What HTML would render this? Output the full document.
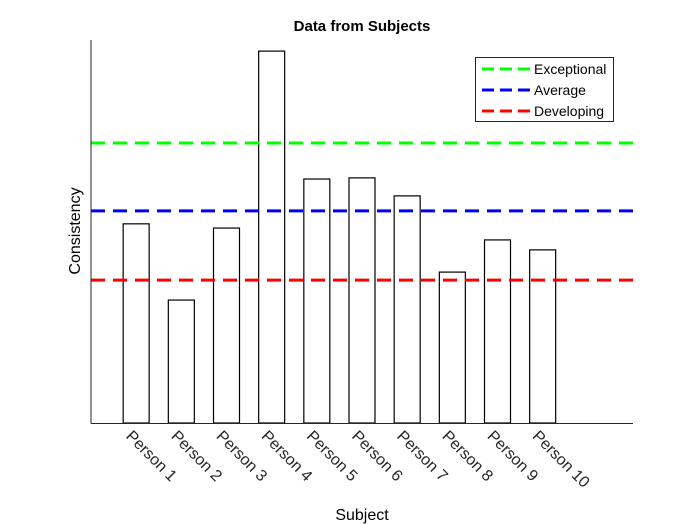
<!DOCTYPE html>
<html><head><meta charset="utf-8"><style>body{margin:0;background:#fff}svg{display:block;font-family:"Liberation Sans",Arial,sans-serif}</style></head>
<body>
<svg id="chart" width="700" height="525" viewBox="0 0 700 525">
<rect x="0" y="0" width="700" height="525" fill="#fff"/>
<text x="362" y="31" text-anchor="middle" font-size="15" font-weight="bold">Data from Subjects</text>
<text x="362" y="520" text-anchor="middle" font-size="16">Subject</text>
<text transform="translate(80,231) rotate(-90)" text-anchor="middle" font-size="16">Consistency</text>
<g id="bars"></g><g id="lines"></g><g id="ticks"></g>
<line x1="91" y1="40" x2="91" y2="423.5" stroke="#262626"/>
<line x1="91" y1="423.5" x2="633" y2="423.5" stroke="#262626"/>
<g>
<rect x="475.5" y="57.5" width="138" height="64" fill="#fff" stroke="#262626"/>
<g id="legend-entries"></g>
</g>
</svg>
<script>
const categories=["Person 1","Person 2","Person 3","Person 4","Person 5","Person 6","Person 7","Person 8","Person 9","Person 10"];
const values=[52.0,32.1,50.9,97.1,63.7,64.0,59.3,39.4,47.8,45.2];
const refNames=["Exceptional","Average","Developing"];
const refValues=[73.1,55.4,37.3];
const refColors=["#00ff00","#0000ff","#ff0000"];
const NS="http://www.w3.org/2000/svg";
const X0=91,X1=633,Y0=423,Y1=40;
const xs=v=>X0+(v/12)*(X1-X0);
const ys=v=>Y0-(v/100)*(Y0-Y1);
function mk(t,a,p){const e=document.createElementNS(NS,t);for(const k in a)e.setAttribute(k,a[k]);p.appendChild(e);return e;}
const bars=document.getElementById('bars'),lines=document.getElementById('lines'),ticks=document.getElementById('ticks'),leg=document.getElementById('legend-entries');
values.forEach((v,i)=>{const c=xs(i+1);
const r=mk('rect',{x:c-13,y:ys(v),width:26,height:ys(0)-ys(v),fill:'#fff',stroke:'#000','stroke-width':1.2},bars);


const t=mk('text',{transform:`translate(${c-11},${437}) rotate(45)`,'font-size':16,fill:'#262626'},ticks);
t.textContent=categories[i];


});
refValues.forEach((v,i)=>{
const l=mk('line',{x1:X0,x2:X1,y1:ys(v),y2:ys(v),stroke:refColors[i],'stroke-width':3,'stroke-dasharray':'14,8'},lines);


const y=69+i*21;
const ll=mk('line',{x1:482,x2:530,y1:y,y2:y,stroke:refColors[i],'stroke-width':3,'stroke-dasharray':'12,6'},leg);


const t=mk('text',{x:534,y:y+5,'font-size':14,fill:'#000'},leg);
t.textContent=refNames[i];


});
</script>
</body></html>
